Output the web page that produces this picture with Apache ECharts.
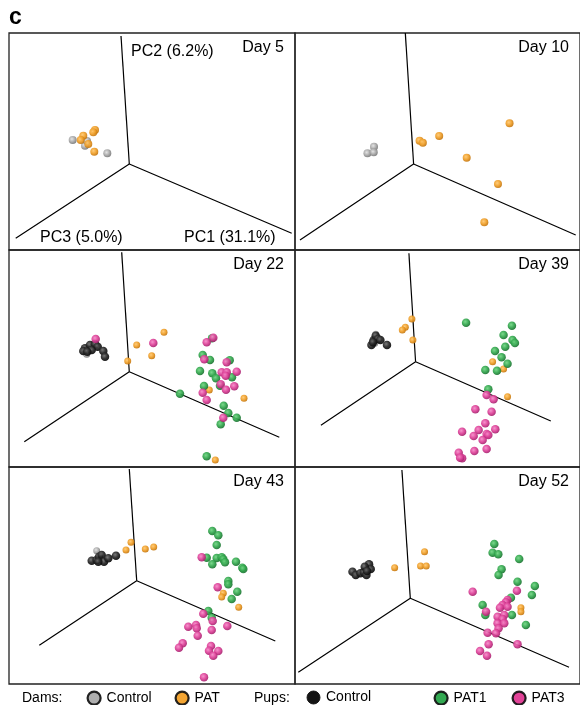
<!DOCTYPE html>
<html><head><meta charset="utf-8">
<script src="https://cdn.jsdelivr.net/npm/echarts@6/dist/echarts.min.js"></script>
<style>html,body{margin:0;padding:0;background:#fff}#c{width:580px;height:705px}</style>
</head><body><div id="c"></div>
<script>
// ---------- DATA (panel-local projected coordinates; x right, y up) ----------
const panelTitles = ['Day 5', 'Day 10', 'Day 22', 'Day 39', 'Day 43', 'Day 52'];
const pcLabels = ['PC1 (31.1%)', 'PC2 (6.2%)', 'PC3 (5.0%)'];
const groupNames = ['Dams Control', 'Dams PAT', 'Pups Control', 'PAT1', 'PAT3'];
const legendLabels = ['Control', 'PAT', 'Control', 'PAT1', 'PAT3'];

// projected PC axes for each panel: origin, PC2 (up), PC3 (left), PC1 (right)
const pcOrigin = [[120.3,86],[119,86],[120.3,95.3],[121,105.3],[127.7,103.3],[115.7,85.7]];
const pcUpEnd = [[112,214],[110.7,217],[112.7,214.7],[114.3,213.7],[120.3,215],[107.3,214]];
const pcLeftEnd = [[6.7,11.7],[5,10],[15.3,25.3],[26,41.7],[30.3,38.7],[3.3,11.7]];
const pcRightEnd = [[282.7,16.7],[281.7,15],[270.3,29.7],[256.7,46],[266.3,43],[275,16.7]];

const damsControl = [
  [[63.7,110],[76,104.3],[98.3,96.7],[78,109]],
  [[72.7,96.7],[79.3,103.3],[79,97.7]],
  [[77.7,112.7]],
  [[81,132.7],[80,123.7]],
  [[87.7,133.3]],
  []
];
const damsPAT = [
  [[86,120],[84.3,117.7],[74.3,114.3],[71.7,110],[79.3,106],[85.3,98.3]],
  [[125,109.3],[128.3,107.3],[144.7,114],[215.3,126.7],[172.3,92.3],[203.7,66],[190,27.7]],
  [[155,134.7],[127.7,122],[142.7,111.3],[118.7,106],[200.3,77],[235,68.7],[206.3,7]],
  [[117.3,148],[110.7,139.7],[107.7,137],[118.3,127],[198.3,105.3],[209.3,98],[213.3,70.3]],
  [[122,141.7],[117,134],[136.3,135],[144.7,137],[214.3,90.7],[212.7,87],[229.7,76.7]],
  [[100,116.3],[130,132.3],[126,118],[131.7,118],[226.7,76.3],[226.7,72.3]]
];
const pupsControl = [
  [],
  [],
  [[76,118.7],[74.3,116],[81,122],[86,122.7],[88.7,120.3],[94.3,116],[96,110.3],[82.7,117],[78.3,115.3]],
  [[76.7,122],[79,127],[81,131.3],[83.3,128],[85.7,127],[78.3,124.7],[92.3,122]],
  [[82.7,123.3],[87.7,124],[90,127.3],[92.7,129],[95,122.3],[99.3,125.7],[107,128.3],[89.3,122.3]],
  [[57.7,112.3],[61,109],[65.7,110.7],[69,111.7],[71.7,109],[74.3,119.7],[76,115],[70,117.3],[72.3,113]]
];
const pupsPAT1 = [
  [],
  [],
  [[203,128.7],[193.7,112],[201,107],[220.7,106.7],[191,96],[203.3,93.7],[207,88.7],[223,89.7],[195,81],[211,81.3],[171,73.3],[214.7,61.3],[219.3,54],[227.7,49.3],[211.7,42.7],[197.7,10.7]],
  [[171.7,144.3],[217.7,141.3],[209.3,132],[218.3,127],[220.7,124],[211,120.3],[200.7,116],[207.3,109.7],[213.3,103.3],[191,97],[202.7,96.3],[194,77.7]],
  [[203.3,153],[209.3,148.7],[207.7,139],[197.7,126.3],[207.7,126],[212.7,126.7],[214.3,124.7],[203.3,119.7],[216,121.7],[227,122.3],[233.3,116.3],[234.3,115],[219.3,103],[219.3,99.7],[228.3,92.3],[222.7,85],[199.3,73],[202.7,66.3]],
  [[200,140],[198.3,131.3],[204,129.7],[225,125],[207.3,114.7],[204.3,109],[223.3,102.3],[240.7,98],[237.7,89],[216.7,86.3],[188.3,79],[191,69],[217.7,69],[231.7,59]]
];
const pupsPAT3 = [
  [],
  [],
  [[86.7,128],[144.3,124],[204.3,129.3],[197.7,124.7],[195.3,107.7],[217.7,104.7],[212.7,94.7],[217.7,94.7],[227.7,95.3],[216.7,91.3],[211.7,82.7],[225.3,80.7],[217,77.3],[193.7,74.3],[197.7,67],[214.3,49.3]],
  [[192.3,72],[199.3,67.7],[181,57.7],[197.3,55.3],[191,43.7],[184.3,37],[201,37.7],[167.7,35.3],[179.3,31],[192.3,33],[194,32],[188.3,27],[180,16],[192.3,18],[164.3,14.3],[167.7,8.7],[165.7,9.3]],
  [[192.7,126.7],[208.7,96.7],[194.3,70.3],[203.7,63],[218.3,58],[179.3,57.3],[187,59],[187.7,55.7],[202.7,54],[188.7,48.3],[173.7,40.7],[170,36.3],[202,38],[200,33.3],[209.3,33],[204.3,28.3],[195,6.7]],
  [[178.3,92.3],[222.7,93.3],[213.3,84],[211.7,81.7],[208.3,79],[205.7,76.3],[213.3,77.3],[191.7,72.3],[210,69],[203.3,67.3],[208.3,65],[203.3,60.7],[210,60.7],[204.3,55.7],[193.3,51.3],[201.7,50.7],[223.3,39.7],[194.3,39.7],[185.7,33],[192.7,28.3]]
];
const groups = [damsControl, damsPAT, pupsControl, pupsPAT1, pupsPAT3];

// ---------- LAYOUT / STYLE ----------
const FONT = '"Liberation Sans", Arial, Helvetica, sans-serif';
const W = 286, H = 217;
const panelLeft = [9, 295, 9, 295, 9, 295];
const panelTop = [33, 33, 250, 250, 467, 467];
const groupStyle = [
  {light:'#e2e2e2', base:'#aaaaaa', edge:'#7c7c7c', legend:'#a8a8a8'},
  {light:'#ffc870', base:'#f0a02a', edge:'#c67810', legend:'#f29d22'},
  {light:'#6e6e6e', base:'#262626', edge:'#0a0a0a', legend:'#000000'},
  {light:'#70d482', base:'#33a84e', edge:'#1c7432', legend:'#22a243'},
  {light:'#f58ac8', base:'#de4299', edge:'#a82470', legend:'#e0338f'}
];
const legendIconX = [93, 181, 313, 440, 518];

const grids = [], xAxes = [], yAxes = [], series = [], graphics = [];
for (let p = 0; p < 6; p++) {
  grids.push({left: panelLeft[p], top: panelTop[p], width: W, height: H, show: true,
    borderColor: '#222', borderWidth: 1.3, backgroundColor: 'transparent'});
  xAxes.push({gridIndex: p, type: 'value', min: 0, max: W, show: false});
  yAxes.push({gridIndex: p, type: 'value', min: 0, max: H, show: false});
  const lineStyle = {color: '#000', width: 1.2};
  series.push({type: 'line', xAxisIndex: p, yAxisIndex: p, silent: true, symbol: 'none', z: 1,
    lineStyle, data: [pcLeftEnd[p], pcOrigin[p], pcRightEnd[p]], animation: false});
  series.push({type: 'line', xAxisIndex: p, yAxisIndex: p, silent: true, symbol: 'none', z: 1,
    lineStyle, data: [pcOrigin[p], pcUpEnd[p]], animation: false});
  groups.forEach((g, gi) => {
    const st = groupStyle[gi];
    const isDam = gi < 2;
    series.push({
      name: groupNames[gi], type: 'scatter', xAxisIndex: p, yAxisIndex: p, z: 2 + gi,
      symbolSize: isDam ? (p < 2 ? 8 : 7) : 8.5,
      animation: false,
      itemStyle: {
        color: {type: 'radial', x: 0.4, y: 0.38, r: 0.62,
          colorStops: [{offset: 0, color: st.light}, {offset: 0.55, color: st.base}, {offset: 1, color: st.edge}]},
        opacity: 0.92
      },
      data: g[p]
    });
  });
  graphics.push({type: 'text', x: panelLeft[p] + W - (p % 2 ? 12 : 11), y: panelTop[p] + 15,
    style: {text: panelTitles[p], align: 'right', verticalAlign: 'middle', fontSize: 16, fontFamily: FONT, fill: '#000'}});
}
// PC labels in the first panel
graphics.push({type: 'text', x: 131, y: 52, style: {text: pcLabels[1], verticalAlign: 'middle', fontSize: 16, fontFamily: FONT, fill: '#000'}});
graphics.push({type: 'text', x: 40, y: 238, style: {text: pcLabels[2], verticalAlign: 'middle', fontSize: 16, fontFamily: FONT, fill: '#000'}});
graphics.push({type: 'text', x: 184, y: 238, style: {text: pcLabels[0], verticalAlign: 'middle', fontSize: 16, fontFamily: FONT, fill: '#000'}});
// panel letter
graphics.push({type: 'text', x: 9, y: 18, style: {text: 'c', verticalAlign: 'middle', fontSize: 23, fontWeight: 'bold', fontFamily: FONT, fill: '#000'}});
// legend headings
graphics.push({type: 'text', x: 22, y: 698, style: {text: 'Dams:', verticalAlign: 'middle', fontSize: 14, fontFamily: FONT, fill: '#000'}});
graphics.push({type: 'text', x: 254, y: 698, style: {text: 'Pups:', verticalAlign: 'middle', fontSize: 14, fontFamily: FONT, fill: '#000'}});

const legends = groupNames.map((n, i) => ({
  data: [{name: n, icon: 'circle', itemStyle: {color: groupStyle[i].legend, borderColor: '#111', borderWidth: i === 2 ? 1 : 2.2}}],
  left: legendIconX[i] - 6.5, top: 690.5, padding: 0, itemWidth: 13, itemHeight: 13,
  selectedMode: false, formatter: () => legendLabels[i],
  textStyle: {fontSize: 14, fontFamily: FONT, color: '#000', padding: [0, 0, 0, 1]}
}));

const chart = echarts.init(document.getElementById('c'), null, {renderer: 'canvas'});
chart.setOption({
  animation: false,
  backgroundColor: '#fff',
  grid: grids, xAxis: xAxes, yAxis: yAxes,
  legend: legends,
  graphic: graphics,
  series: series
});
</script></body></html>
